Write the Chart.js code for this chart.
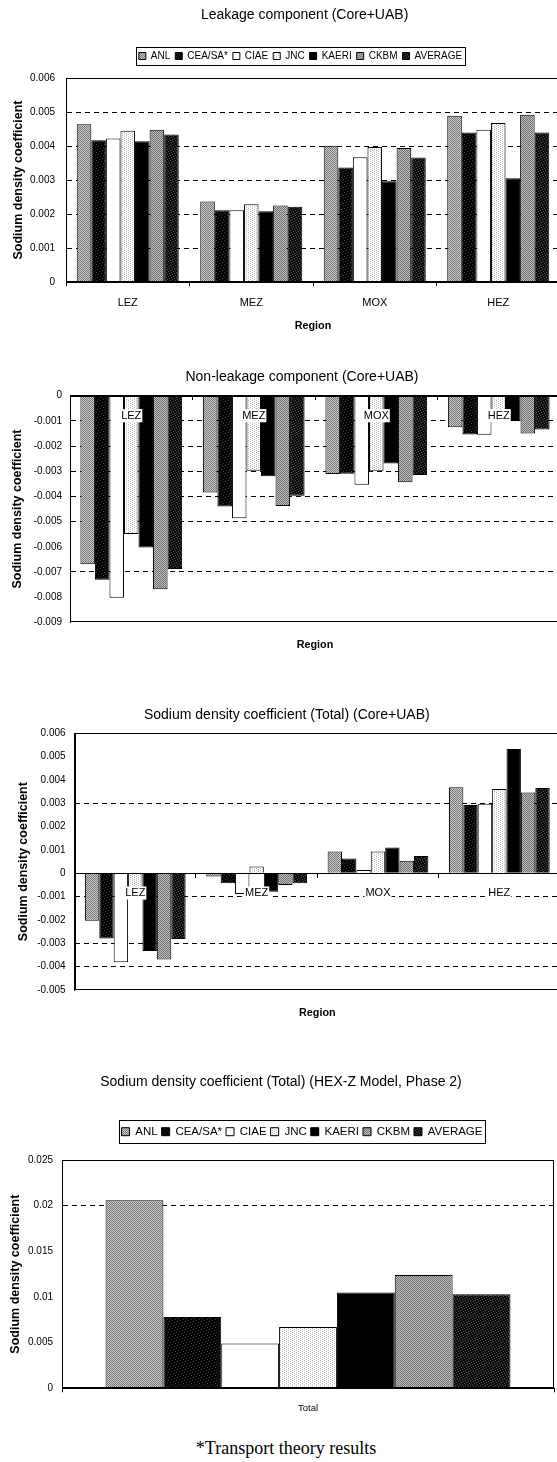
<!DOCTYPE html>
<html>
<head>
<meta charset="utf-8">
<title>Sodium density coefficient</title>
<script src="https://cdn.jsdelivr.net/npm/chart.js@4.4.1/dist/chart.umd.min.js"></script>
<style>
  html, body { margin: 0; padding: 0; background: #fff; }
  #page { position: relative; width: 557px; height: 1462px; overflow: hidden; background: #fff; }
  #page canvas { position: absolute; left: 0; }
  #note { position: absolute; left: 0; width: 572px; top: 1437px; line-height: 22px; text-align: center;
          font-family: "Liberation Serif", "Times New Roman", serif; font-size: 18px; color: #000; }
</style>
</head>
<body>
<div id="page">
  <canvas id="leak" width="610" height="340" style="top:0px"></canvas>
  <canvas id="nonleak" width="610" height="320" style="top:340px"></canvas>
  <canvas id="total" width="610" height="340" style="top:690px"></canvas>
  <canvas id="hexz" width="557" height="362" style="top:1060px"></canvas>
  <div id="note">*Transport theory results</div>
</div>
<script>
const FONT = '"Liberation Sans", Arial, Helvetica, sans-serif';
Chart.defaults.font.family = FONT;
Chart.defaults.color = '#000';

// ---- categories and series ----
const regions = ['LEZ', 'MEZ', 'MOX', 'HEZ'];
const hexzCategories = ['Total'];
const codes = ['ANL', 'CEA/SA*', 'CIAE', 'JNC', 'KAERI', 'CKBM', 'AVERAGE'];

// Leakage component (Core+UAB), one value per region
const leakANL   = [0.00464, 0.00237, 0.00401, 0.00489];
const leakCEA   = [0.00417, 0.00211, 0.00337, 0.00440];
const leakCIAE  = [0.00422, 0.00211, 0.00367, 0.00448];
const leakJNC   = [0.00445, 0.00229, 0.00397, 0.00468];
const leakKAERI = [0.00414, 0.00208, 0.00296, 0.00305];
const leakCKBM  = [0.00448, 0.00225, 0.00394, 0.00492];
const leakAVG   = [0.00434, 0.00221, 0.00366, 0.00440];

// Non-leakage component (Core+UAB)
const nonANL   = [-0.00669, -0.00384, -0.00311, -0.00125];
const nonCEA   = [-0.00731, -0.00440, -0.00310, -0.00154];
const nonCIAE  = [-0.00802, -0.00487, -0.00354, -0.00155];
const nonJNC   = [-0.00549, -0.00298, -0.00300, -0.00105];
const nonKAERI = [-0.00603, -0.00320, -0.00269, -0.00100];
const nonCKBM  = [-0.00769, -0.00438, -0.00344, -0.00150];
const nonAVG   = [-0.00688, -0.00397, -0.00315, -0.00134];

// Total sodium density coefficient (Core+UAB)
const totANL   = [-0.00203, -0.00014, 0.00093, 0.00369];
const totCEA   = [-0.00279, -0.00043, 0.00064, 0.00293];
const totCIAE  = [-0.00381, -0.00089, 0.00014, 0.00298];
const totJNC   = [-0.00105, 0.00029, 0.00093, 0.00361];
const totKAERI = [-0.00333, -0.00079, 0.00111, 0.00533];
const totCKBM  = [-0.00369, -0.00050, 0.00054, 0.00346];
const totAVG   = [-0.00281, -0.00043, 0.00074, 0.00366];

// HEX-Z model, Phase 2: one total per code (same order as codes)
const hexzTotal = [0.0206, 0.0078, 0.0049, 0.0067, 0.0105, 0.0124, 0.0103];

// ---- value axis ticks ----
const leakTicks  = [0, 0.001, 0.002, 0.003, 0.004, 0.005, 0.006];
const nonTicks   = [-0.009, -0.008, -0.007, -0.006, -0.005, -0.004, -0.003, -0.002, -0.001, 0];
const totalTicks = [-0.005, -0.004, -0.003, -0.002, -0.001, 0, 0.001, 0.002, 0.003, 0.004, 0.005, 0.006];
const hexzTicks  = [0, 0.005, 0.01, 0.015, 0.02, 0.025];

// tick values that carry a dashed gridline
const leakDashed  = [0.001, 0.002, 0.003, 0.004, 0.005];
const nonDashed   = [-0.007, -0.005, -0.004, -0.003, -0.002, -0.001];
const totalDashed = [-0.004, -0.003, -0.001, 0.003];
const hexzDashed  = [0.02];

// ---- halftone fills for the bars ----
function halftone(base, dot, step, shift) {
  const c = document.createElement('canvas');
  c.width = c.height = step;
  const g = c.getContext('2d');
  g.fillStyle = base;
  g.fillRect(0, 0, step, step);
  g.fillStyle = dot;
  for (let y = 0; y < step; y++) {
    for (let x = 0; x < step; x++) {
      if ((x + shift * y) % step === 0) g.fillRect(x, y, 1, 1);
    }
  }
  return g.createPattern(c, 'repeat');
}
const fills = [
  halftone('#c8c8c8', '#7a7a7a', 2, 1),  // ANL
  halftone('#050505', '#3c3c3c', 8, 3),  // CEA/SA*
  '#ffffff',                             // CIAE
  halftone('#ffffff', '#b8b8b8', 4, 2),  // JNC
  '#000000',                             // KAERI
  halftone('#bebebe', '#707070', 2, 1),  // CKBM
  halftone('#0d0d0d', '#505050', 5, 2)   // AVERAGE
];

// ---- helpers ----
const fmt = v => String(+Number(v).toFixed(4));
const dashedAt = list => c => (c.tick && list.includes(c.tick.value)) ? '#000' : 'rgba(0,0,0,0)';

function bars(seriesList, pct) {
  return seriesList.map((data, i) => ({
    label: codes[i],
    data: data,
    xAxisID: 'x',
    yAxisID: 'y',
    backgroundColor: fills[i],
    borderColor: '#000',
    borderWidth: 1,
    borderSkipped: 'start',
    categoryPercentage: pct,
    barPercentage: 1
  }));
}

function valueAxis(ticks, dashList, width, tickPad, titlePad) {
  return {
    type: 'linear',
    position: 'left',
    min: ticks[0],
    max: ticks[ticks.length - 1],
    afterBuildTicks: s => { s.ticks = ticks.map(v => ({ value: v })); },
    afterFit: s => { s.width = width; },
    ticks: { font: { size: 10 }, color: '#000', padding: tickPad, callback: fmt },
    grid: { drawTicks: false, lineWidth: 1, color: dashedAt(dashList) },
    border: { display: true, color: '#000', width: 1, dash: [5, 4] },
    title: {
      display: true,
      text: 'Sodium density coefficient',
      color: '#000',
      font: { size: 12.5, weight: 'bold', lineHeight: 1 },
      padding: { top: titlePad, bottom: 0 }
    }
  };
}

// axis with region names sitting on the zero line, printed over the bars
function zeroLineAxis(tickPad) {
  return {
    type: 'category',
    position: { y: 0 },
    offset: true,
    grid: { drawOnChartArea: false, drawTicks: true, tickLength: 4, tickColor: '#000', color: '#000', offset: true },
    border: { display: true, color: '#000', width: 1, z: 1 },
    ticks: {
      font: { size: 11 }, color: '#000', padding: tickPad, maxRotation: 0, autoSkip: false, z: 1,
      showLabelBackdrop: true, backdropColor: '#ffffff', backdropPadding: { x: 1, y: 0 }
    }
  };
}

// bottom strip carrying only the "Region" caption
function captionAxis(height, padBottom) {
  return {
    type: 'category',
    position: 'bottom',
    grid: { display: false },
    border: { display: false },
    ticks: { display: false },
    afterFit: s => { s.height = height; },
    title: {
      display: true, text: 'Region', color: '#000',
      font: { size: 10.8, weight: 'bold', lineHeight: 1.2 },
      padding: { top: 0, bottom: padBottom }
    }
  };
}

function moveBox(box, cx, top) {
  const w = box.right - box.left;
  const h = box.bottom - box.top;
  box.left = cx - w / 2;
  box.right = cx + w / 2;
  box.top = top;
  box.bottom = top + h;
}

// puts the title and legend at set centres and draws the legend frame
const placement = {
  id: 'placement',
  afterLayout(chart, args, opts) {
    const t = chart.titleBlock;
    if (opts.title && t) {
      const size = chart.options.plugins.title.font.size;
      moveBox(t, opts.title.x, opts.title.y - size / 2);
    }
    const lg = chart.legend;
    if (opts.legend && lg && chart.options.plugins.legend.display) {
      const lo = chart.options.plugins.legend.labels;
      const item = Math.max(lo.font.size, lo.boxHeight);
      moveBox(lg, opts.legend.x, opts.legend.y - lo.padding - item / 2);
    }
  },
  afterDraw(chart, args, opts) {
    const lg = chart.legend;
    if (!opts.frame || !lg || !lg.legendHitBoxes || !lg.legendHitBoxes.length) return;
    const hb = lg.legendHitBoxes;
    const first = hb[0], last = hb[hb.length - 1];
    const x0 = Math.round(first.left - opts.frame.padL) + 0.5;
    const x1 = Math.round(last.left + last.width + opts.frame.padR) + 0.5;
    const y0 = Math.round(first.top - opts.frame.padY) + 0.5;
    const y1 = Math.round(first.top + first.height + opts.frame.padY) + 0.5;
    const ctx = chart.ctx;
    ctx.save();
    ctx.strokeStyle = '#000';
    ctx.lineWidth = 1;
    ctx.strokeRect(x0, y0, x1 - x0, y1 - y0);
    ctx.restore();
  }
};

// plot area border
const plotFrame = {
  id: 'plotFrame',
  afterDatasetsDraw(chart) {
    const a = chart.chartArea;
    const ctx = chart.ctx;
    const l = Math.round(a.left) + 0.5, t = Math.round(a.top) + 0.5;
    const r = Math.round(a.right) - 0.5, b = Math.round(a.bottom) - 0.5;
    ctx.save();
    ctx.strokeStyle = '#000';
    ctx.lineWidth = 1;
    ctx.strokeRect(l, t, r - l, b - t);
    ctx.restore();
  }
};

const common = { responsive: false, animation: false, events: [], devicePixelRatio: 1 };

// ---- Leakage component ----
new Chart(document.getElementById('leak'), {
  type: 'bar',
  data: { labels: regions, datasets: bars([leakANL, leakCEA, leakCIAE, leakJNC, leakKAERI, leakCKBM, leakAVG], 0.826) },
  options: Object.assign({}, common, {
    layout: { padding: { left: 0, right: 50, top: 0, bottom: 6 } },
    plugins: {
      title: { display: true, text: 'Leakage component (Core+UAB)', color: '#000',
               font: { size: 14, weight: 'normal', lineHeight: 1 }, padding: { top: 0, bottom: 39 } },
      legend: { display: true, position: 'top',
                labels: { boxWidth: 7, boxHeight: 7, padding: 5, color: '#000', font: { size: 10 } } },
      tooltip: { enabled: false },
      placement: { title: { x: 304.6, y: 15.5 }, legend: { x: 300.5, y: 56 }, frame: { padL: 3, padR: 3, padY: 4 } }
    },
    scales: {
      x: {
        type: 'category', position: 'bottom', offset: true,
        afterFit: s => { s.height = 52; },
        grid: { drawOnChartArea: false, drawTicks: true, tickLength: 4, tickColor: '#000', color: '#000', offset: true },
        border: { display: true, color: '#000', width: 1 },
        ticks: { font: { size: 11 }, color: '#000', padding: 10, maxRotation: 0, autoSkip: false },
        title: { display: true, text: 'Region', color: '#000',
                 font: { size: 10.8, weight: 'bold', lineHeight: 1.2 }, padding: { top: 0, bottom: 1.5 } }
      },
      y: valueAxis(leakTicks, leakDashed, 66, 11, 12)
    }
  }),
  plugins: [placement, plotFrame]
});

// ---- Non-leakage component ----
new Chart(document.getElementById('nonleak'), {
  type: 'bar',
  data: { labels: regions, datasets: bars([nonANL, nonCEA, nonCIAE, nonJNC, nonKAERI, nonCKBM, nonAVG], 0.83) },
  options: Object.assign({}, common, {
    layout: { padding: { left: 0, right: 50, top: 0, bottom: 0 } },
    plugins: {
      title: { display: true, text: 'Non-leakage component (Core+UAB)', color: '#000',
               font: { size: 14, weight: 'normal', lineHeight: 1 }, padding: { top: 0, bottom: 41.7 } },
      legend: { display: false },
      tooltip: { enabled: false },
      placement: { title: { x: 302, y: 36.7 } }
    },
    scales: {
      x: zeroLineAxis(9.4),
      xr: captionAxis(37.7, 8.5),
      y: valueAxis(nonTicks, nonDashed, 70, 8, 11.5)
    }
  }),
  plugins: [placement, plotFrame]
});

// ---- Total (Core+UAB) ----
new Chart(document.getElementById('total'), {
  type: 'bar',
  data: { labels: regions, datasets: bars([totANL, totCEA, totCIAE, totJNC, totKAERI, totCKBM, totAVG], 0.83) },
  options: Object.assign({}, common, {
    layout: { padding: { left: 0, right: 50, top: 0, bottom: 0 } },
    plugins: {
      title: { display: true, text: 'Sodium density coefficient (Total) (Core+UAB)', color: '#000',
               font: { size: 14, weight: 'normal', lineHeight: 1 }, padding: { top: 0, bottom: 29.3 } },
      legend: { display: false },
      tooltip: { enabled: false },
      placement: { title: { x: 286.8, y: 25 } }
    },
    scales: {
      x: zeroLineAxis(9.1),
      xr: captionAxis(40, 10.5),
      y: valueAxis(totalTicks, totalDashed, 74.6, 9, 17.75)
    }
  }),
  plugins: [placement, plotFrame]
});

// ---- Total, HEX-Z model ----
new Chart(document.getElementById('hexz'), {
  type: 'bar',
  data: { labels: hexzCategories, datasets: bars(hexzTotal.map(v => [v]), 0.823) },
  options: Object.assign({}, common, {
    layout: { padding: { left: 0, right: 3, top: 0, bottom: 0 } },
    plugins: {
      title: { display: true, text: 'Sodium density coefficient (Total) (HEX-Z Model, Phase 2)', color: '#000',
               font: { size: 14, weight: 'normal', lineHeight: 1 }, padding: { top: 0, bottom: 60.5 } },
      legend: { display: true, position: 'top',
                labels: { boxWidth: 8, boxHeight: 8, padding: 4, color: '#000', font: { size: 11.5 } } },
      tooltip: { enabled: false },
      placement: { title: { x: 281, y: 21.7 }, legend: { x: 302, y: 71.7 }, frame: { padL: 3, padR: 3, padY: 6 } }
    },
    scales: {
      x: {
        type: 'category', position: 'bottom', offset: true,
        afterFit: s => { s.height = 33.7; },
        grid: { drawOnChartArea: false, drawTicks: true, tickLength: 4, tickColor: '#000', color: '#000', offset: true },
        border: { display: true, color: '#000', width: 1 },
        ticks: { font: { size: 9.5 }, color: '#000', padding: 10, maxRotation: 0, autoSkip: false }
      },
      y: valueAxis(hexzTicks, hexzDashed, 62, 9, 9.75)
    }
  }),
  plugins: [placement, plotFrame]
});
</script>
</body>
</html>
